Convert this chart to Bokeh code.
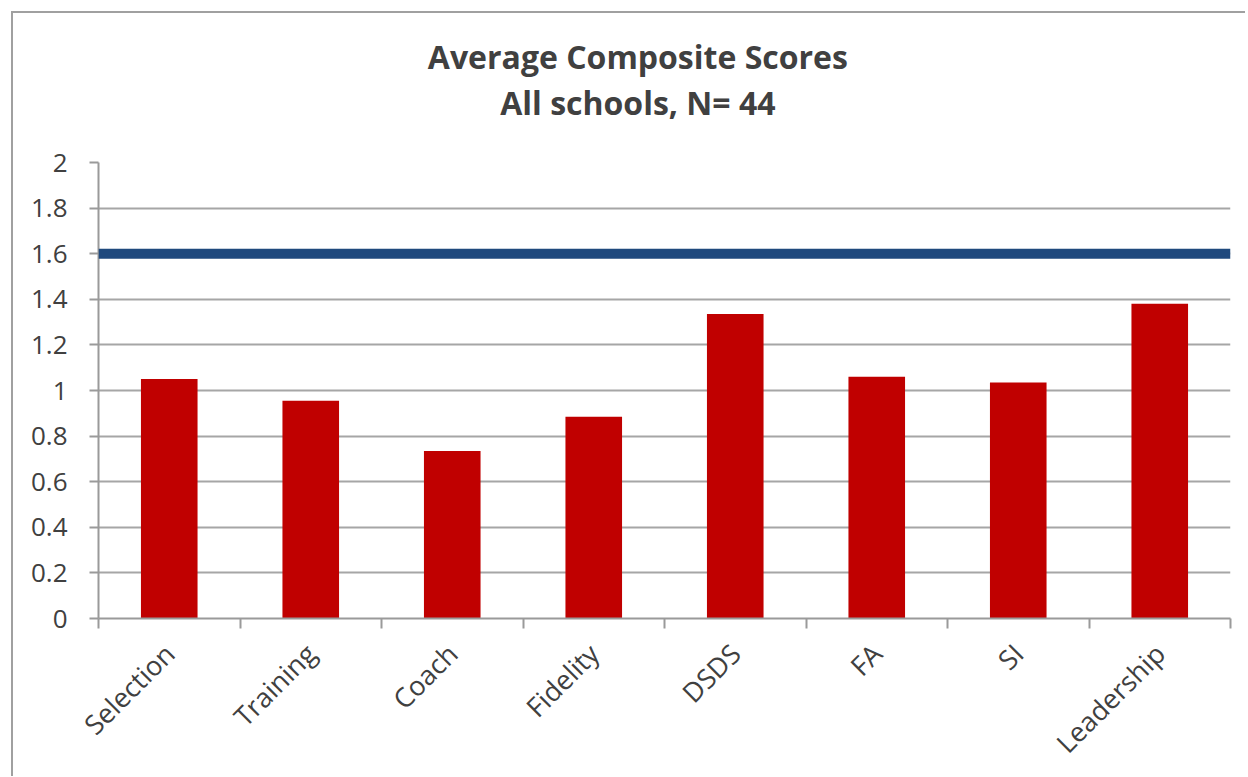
from bokeh.plotting import figure
from bokeh.layouts import column
from bokeh.models import Range1d, FixedTicker, Span
from bokeh.core.properties import value
from bokeh.embed import file_html
from bokeh.resources import INLINE
import math

categories = ["Selection", "Training", "Coach", "Fidelity", "DSDS", "FA", "SI", "Leadership"]
scores = [1.05, 0.955, 0.735, 0.885, 1.335, 1.06, 1.035, 1.38]
benchmark = 1.6
y_ticks = [0, 0.2, 0.4, 0.6, 0.8, 1.0, 1.2, 1.4, 1.6, 1.8, 2.0]
y_tick_labels = ["0", "0.2", "0.4", "0.6", "0.8", "1", "1.2", "1.4", "1.6", "1.8", "2"]
title_lines = ["Average Composite Scores", "All schools, N= 44"]

FONT = "Open Sans"
TXT = "#404040"
GRAY = "#9a9a9a"
W = 1232
TH = 117
MH = 646

centers = [i + 0.5 for i in range(len(categories))]
bounds = list(range(len(categories) + 1))

# ---- title strip ----
tf = figure(width=W, height=TH, output_backend="svg", toolbar_location=None,
            x_range=Range1d(0, W), y_range=Range1d(TH, 0),
            x_axis_location=None, y_axis_location=None, min_border=0)
tf.outline_line_color = None
tf.grid.grid_line_color = None
tf.text(x=[587, 587], y=[43, 89], text=title_lines, text_font=value(FONT),
        text_font_size="32px", text_font_style="bold", text_color=TXT,
        text_align="center", text_baseline="middle")

# ---- main chart ----
p = figure(width=W, height=MH, output_backend="svg", toolbar_location=None,
           x_range=Range1d(0, len(categories)), y_range=Range1d(0, 2),
           min_border_left=85, min_border_right=15, min_border_top=32, min_border_bottom=154)
p.outline_line_color = None

p.vbar(x=centers, top=scores, width=0.4, fill_color="#C00000", line_color=None)
p.add_layout(Span(location=benchmark, dimension="width", line_color="#1F497D", line_width=10))

# y axis
p.yaxis.ticker = FixedTicker(ticks=y_ticks)
p.yaxis.major_label_overrides = {t: l for t, l in zip(y_ticks, y_tick_labels)}
p.yaxis.major_label_text_font = FONT
p.yaxis.major_label_text_font_size = "26px"
p.yaxis.major_label_text_color = TXT
p.yaxis.major_label_standoff = 22
p.yaxis.major_tick_out = 9
p.yaxis.major_tick_in = 0
p.yaxis.minor_tick_line_color = None
p.yaxis.axis_line_color = GRAY
p.yaxis.axis_line_width = 2
p.yaxis.major_tick_line_color = GRAY
p.yaxis.major_tick_line_width = 2

# x axis
p.xaxis.ticker = FixedTicker(ticks=centers, minor_ticks=bounds)
p.xaxis.major_label_overrides = {c: n for c, n in zip(centers, categories)}
p.xaxis.major_label_orientation = math.pi / 4
p.xaxis.major_label_text_font = FONT
p.xaxis.major_label_text_font_size = "27px"
p.xaxis.major_label_text_color = TXT
p.xaxis.major_label_standoff = 20
p.xaxis.major_tick_line_color = None
p.xaxis.major_tick_out = 10
p.xaxis.minor_tick_out = 10
p.xaxis.minor_tick_in = 0
p.xaxis.minor_tick_line_color = GRAY
p.xaxis.minor_tick_line_width = 2
p.xaxis.axis_line_color = GRAY
p.xaxis.axis_line_width = 2

p.xgrid.grid_line_color = None
p.ygrid.grid_line_color = "#a6a6a6"
p.ygrid.grid_line_width = 2

layout = column(tf, p, spacing=0, margin=(11, 0, 0, 11),
                styles={"border-left": "2px solid #a0a0a0", "border-top": "2px solid #a0a0a0"})

open("out.html", "w").write(file_html(layout, INLINE))
